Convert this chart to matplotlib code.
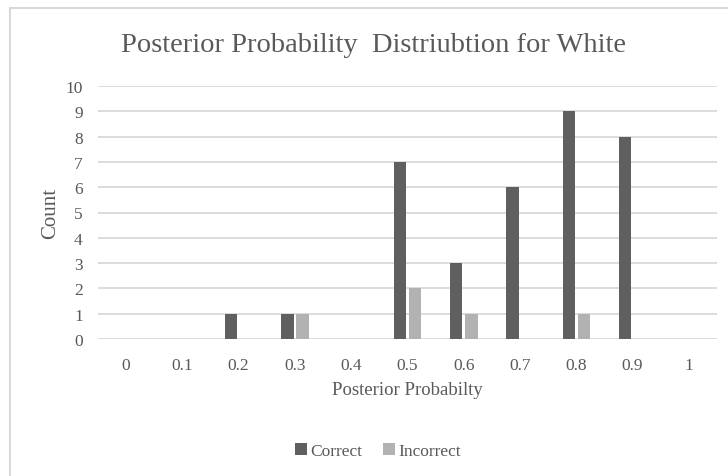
import numpy as np
import matplotlib
matplotlib.use("Agg")
import matplotlib.pyplot as plt
from matplotlib.lines import Line2D

plt.rcParams['font.family'] = ['Liberation Serif', 'DejaVu Serif']

categories = ['0', '0.1', '0.2', '0.3', '0.4', '0.5', '0.6', '0.7', '0.8', '0.9', '1']
correct = [0, 0, 1, 1, 0, 7, 3, 6, 9, 8, 0]
incorrect = [0, 0, 0, 1, 0, 2, 1, 0, 1, 0, 0]

txt = '#595959'
grid = '#d9d9d9'

fig = plt.figure(figsize=(7.28, 4.77), dpi=100)
ax = fig.add_axes([98/728, 1 - 340/477, (717 - 98)/728, (340 - 87)/477])

x = np.arange(len(categories))
w = 0.22
ax.bar(x - 0.135, correct, w, color='#5f5f5f', label='Correct', zorder=3)
ax.bar(x + 0.135, incorrect, w, color='#b2b2b2', label='Incorrect', zorder=3)

ax.set_xlim(-0.5, len(categories) - 0.5)
ax.set_ylim(0, 10)
ax.set_yticks(range(0, 11))
ax.set_xticks(x)
ax.set_xticklabels(categories)
ax.grid(axis='y', color=grid, linewidth=1.3, zorder=0)
ax.tick_params(length=0, colors=txt, labelsize=12.5)
ax.tick_params(axis='x', pad=13)
ax.tick_params(axis='y', pad=11)
for s in ax.spines.values():
    s.set_visible(False)

ax.set_xlabel('Posterior Probabilty', fontsize=13.5, color=txt, labelpad=6)
ax.set_ylabel('Count', fontsize=15, color=txt, labelpad=4)

fig.text(374/728, 1 - 46/477, 'Posterior Probability  Distriubtion for White',
         ha='center', va='center', fontsize=20.5, color=txt)

fig.legend(loc='center', bbox_to_anchor=(378/728, 1 - 452/477), ncol=2,
           frameon=False, fontsize=12.5, labelcolor=txt, handlelength=0.7,
           handleheight=0.7, handletextpad=0.2, columnspacing=1.2)

# chart frame, cut off at right and bottom
fig.add_artist(Line2D([9.5/728, 9.5/728], [0, 1 - 8.5/477], color=grid, linewidth=1.5))
fig.add_artist(Line2D([9.5/728, 1], [1 - 8.5/477, 1 - 8.5/477], color=grid, linewidth=1.5))

fig.savefig('out.png', dpi=100)
